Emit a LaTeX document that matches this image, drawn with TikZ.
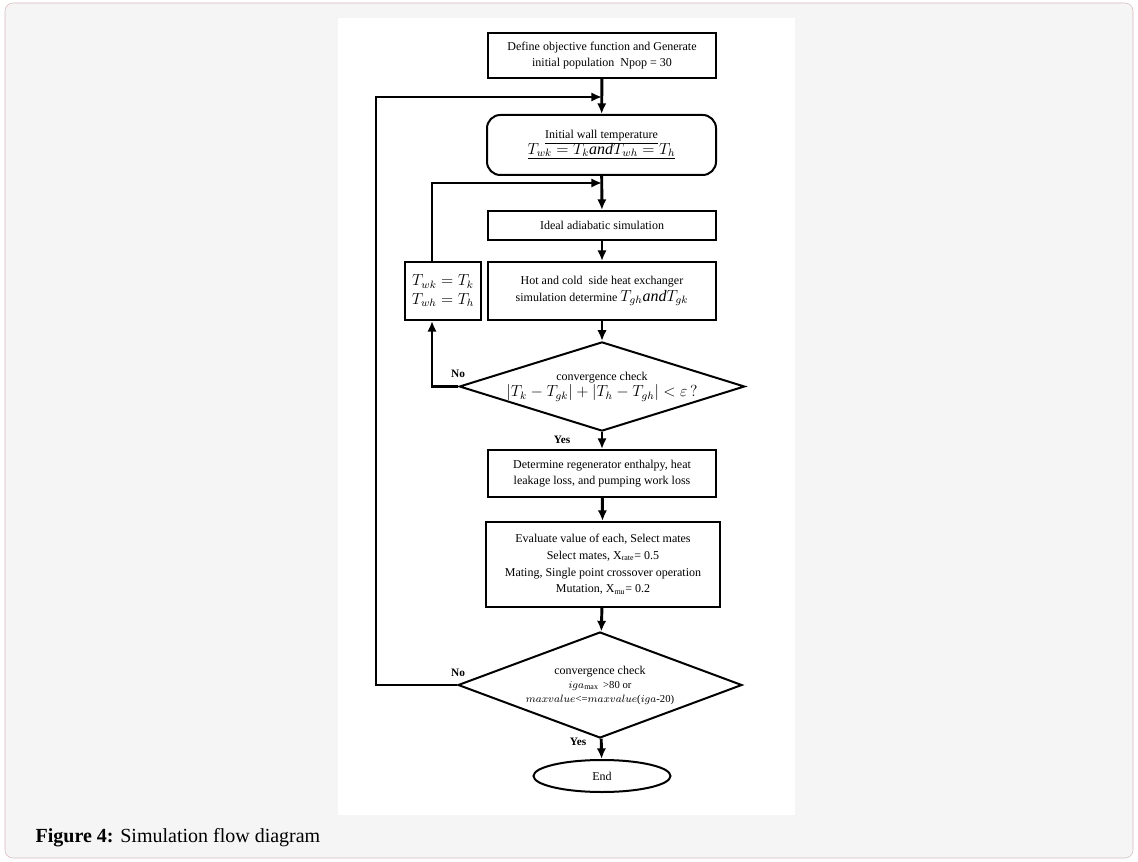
\documentclass[tikz,border=0pt]{standalone}
\usepackage{fontspec}
\setmainfont{Liberation Serif}
\usetikzlibrary{shapes.geometric,arrows.meta}
\begin{document}
\begin{tikzpicture}[x=0.75pt,y=-0.75pt,
    font=\fontsize{9}{12.5}\selectfont,
    box/.style={draw, line width=1.5pt, align=center, inner sep=2pt},
    decision/.style={draw, diamond, line width=1.5pt, align=center, inner sep=0pt},
    flow/.style={-{Latex[length=8pt,width=7pt]}, line width=2.2pt},
    lbl/.style={font=\fontsize{8.5}{10}\selectfont\bfseries}]
    % frame and panel
    \useasboundingbox (0,0) rectangle (1138,862);
    \draw[gray!60!red!40, fill=gray!8, rounded corners=6pt] (5,3) rectangle (1133,858);
    \fill[white] (338,18) rectangle (795,815);
    \node[anchor=west, font=\fontsize{15}{17}\selectfont] (cap) at (31,838) {\textbf{Figure 4:} Simulation flow diagram};

    % --- main column ---
    \node[box, minimum width=171pt, minimum height=33.75pt] (init) at (602,55.5)
        {Define objective function and Generate\\initial population\ \ Npop = 30};
    \node[box, rounded corners=10pt, minimum width=171.75pt, minimum height=45pt] (wall) at (601.5,145)
        {\underline{Initial wall temperature}\\[-1pt]
         \large\underline{$T_{wk}=T_k \mathit{and} T_{wh}=T_h$}};
    \node[box, minimum width=171pt, minimum height=21.75pt] (adia) at (602,225.5)
        {Ideal adiabatic simulation};
    \node[box, minimum width=171pt, minimum height=43.5pt] (hx) at (602,291)
        {Hot and cold\ \ side heat exchanger\\simulation determine {\large$T_{gh}\mathit{and}T_{gk}$}};
    \node[box, minimum width=57pt, minimum height=43.5pt, font=\large] (upd) at (443,291)
        {$T_{wk}=T_k$\\$T_{wh}=T_h$};
    \node[decision, minimum width=209.25pt, minimum height=65.25pt, aspect=3.2] (chk1) at (602,386.5)
        {convergence check\\\large$\left|T_k-T_{gk}\right|+\left|T_h-T_{gh}\right|<\varepsilon\,?$};
    \node[box, minimum width=171pt, minimum height=35.25pt] (enth) at (602,473.5)
        {Determine regenerator enthalpy, heat\\leakage loss, and pumping work loss};
    \node[box, minimum width=175.5pt, minimum height=63.75pt] (ga) at (603,564.5)
        {Evaluate value of each, Select mates\\Select mates, X$_{\mathrm{rate}}$= 0.5\\
         Mating, Single point crossover operation\\Mutation, X$_{\mathrm{mu}}$= 0.2};
    \node[decision, minimum width=213pt, minimum height=79.5pt, aspect=2.68] (chk2) at (600,685)
        {convergence check\\[-2pt]{\fontsize{8}{9.5}\selectfont $iga_{\max}$ \,>80 or}\\[-2pt]
         {\fontsize{8}{9.5}\selectfont $maxvalue$<=$maxvalue$($iga$-20)}};
    \node[draw, ellipse, line width=1.5pt, minimum width=102.75pt, minimum height=24pt] (end) at (602,776) {End};

    % loop corners
    \coordinate (m1) at (602,97);
    \coordinate (m2) at (602,183);
    \coordinate (c1) at (376,685);
    \coordinate (c2) at (376,97);
    \coordinate (c3) at (432,386.5);
    \coordinate (c4) at (432,183);

    % connectors
    \draw[flow] (init) -- (wall);
    \draw[flow] (wall) -- (adia);
    \draw[flow] (adia) -- (hx);
    \draw[flow] (hx) -- (chk1);
    \draw[flow] (chk1) -- (enth);
    \draw[flow] (enth) -- (ga);
    \draw[flow] (ga) -- (chk2);
    \draw[flow] (chk2) -- (end);
    \draw[flow] (chk1.west) -- (c3) -- (c3 |- upd.south);
    \draw[flow] (c3 |- upd.north) -- (c4) -- (m2);
    \draw[flow] (chk2.west) -- (c1) -- (c2) -- (m1);

    % labels
    \node[lbl] (no1) at (458,374) {No};
    \node[lbl] (yes1) at (562,440) {Yes};
    \node[lbl] (no2) at (458,673) {No};
    \node[lbl] (yes2) at (578,742) {Yes};
\end{tikzpicture}
\end{document}
